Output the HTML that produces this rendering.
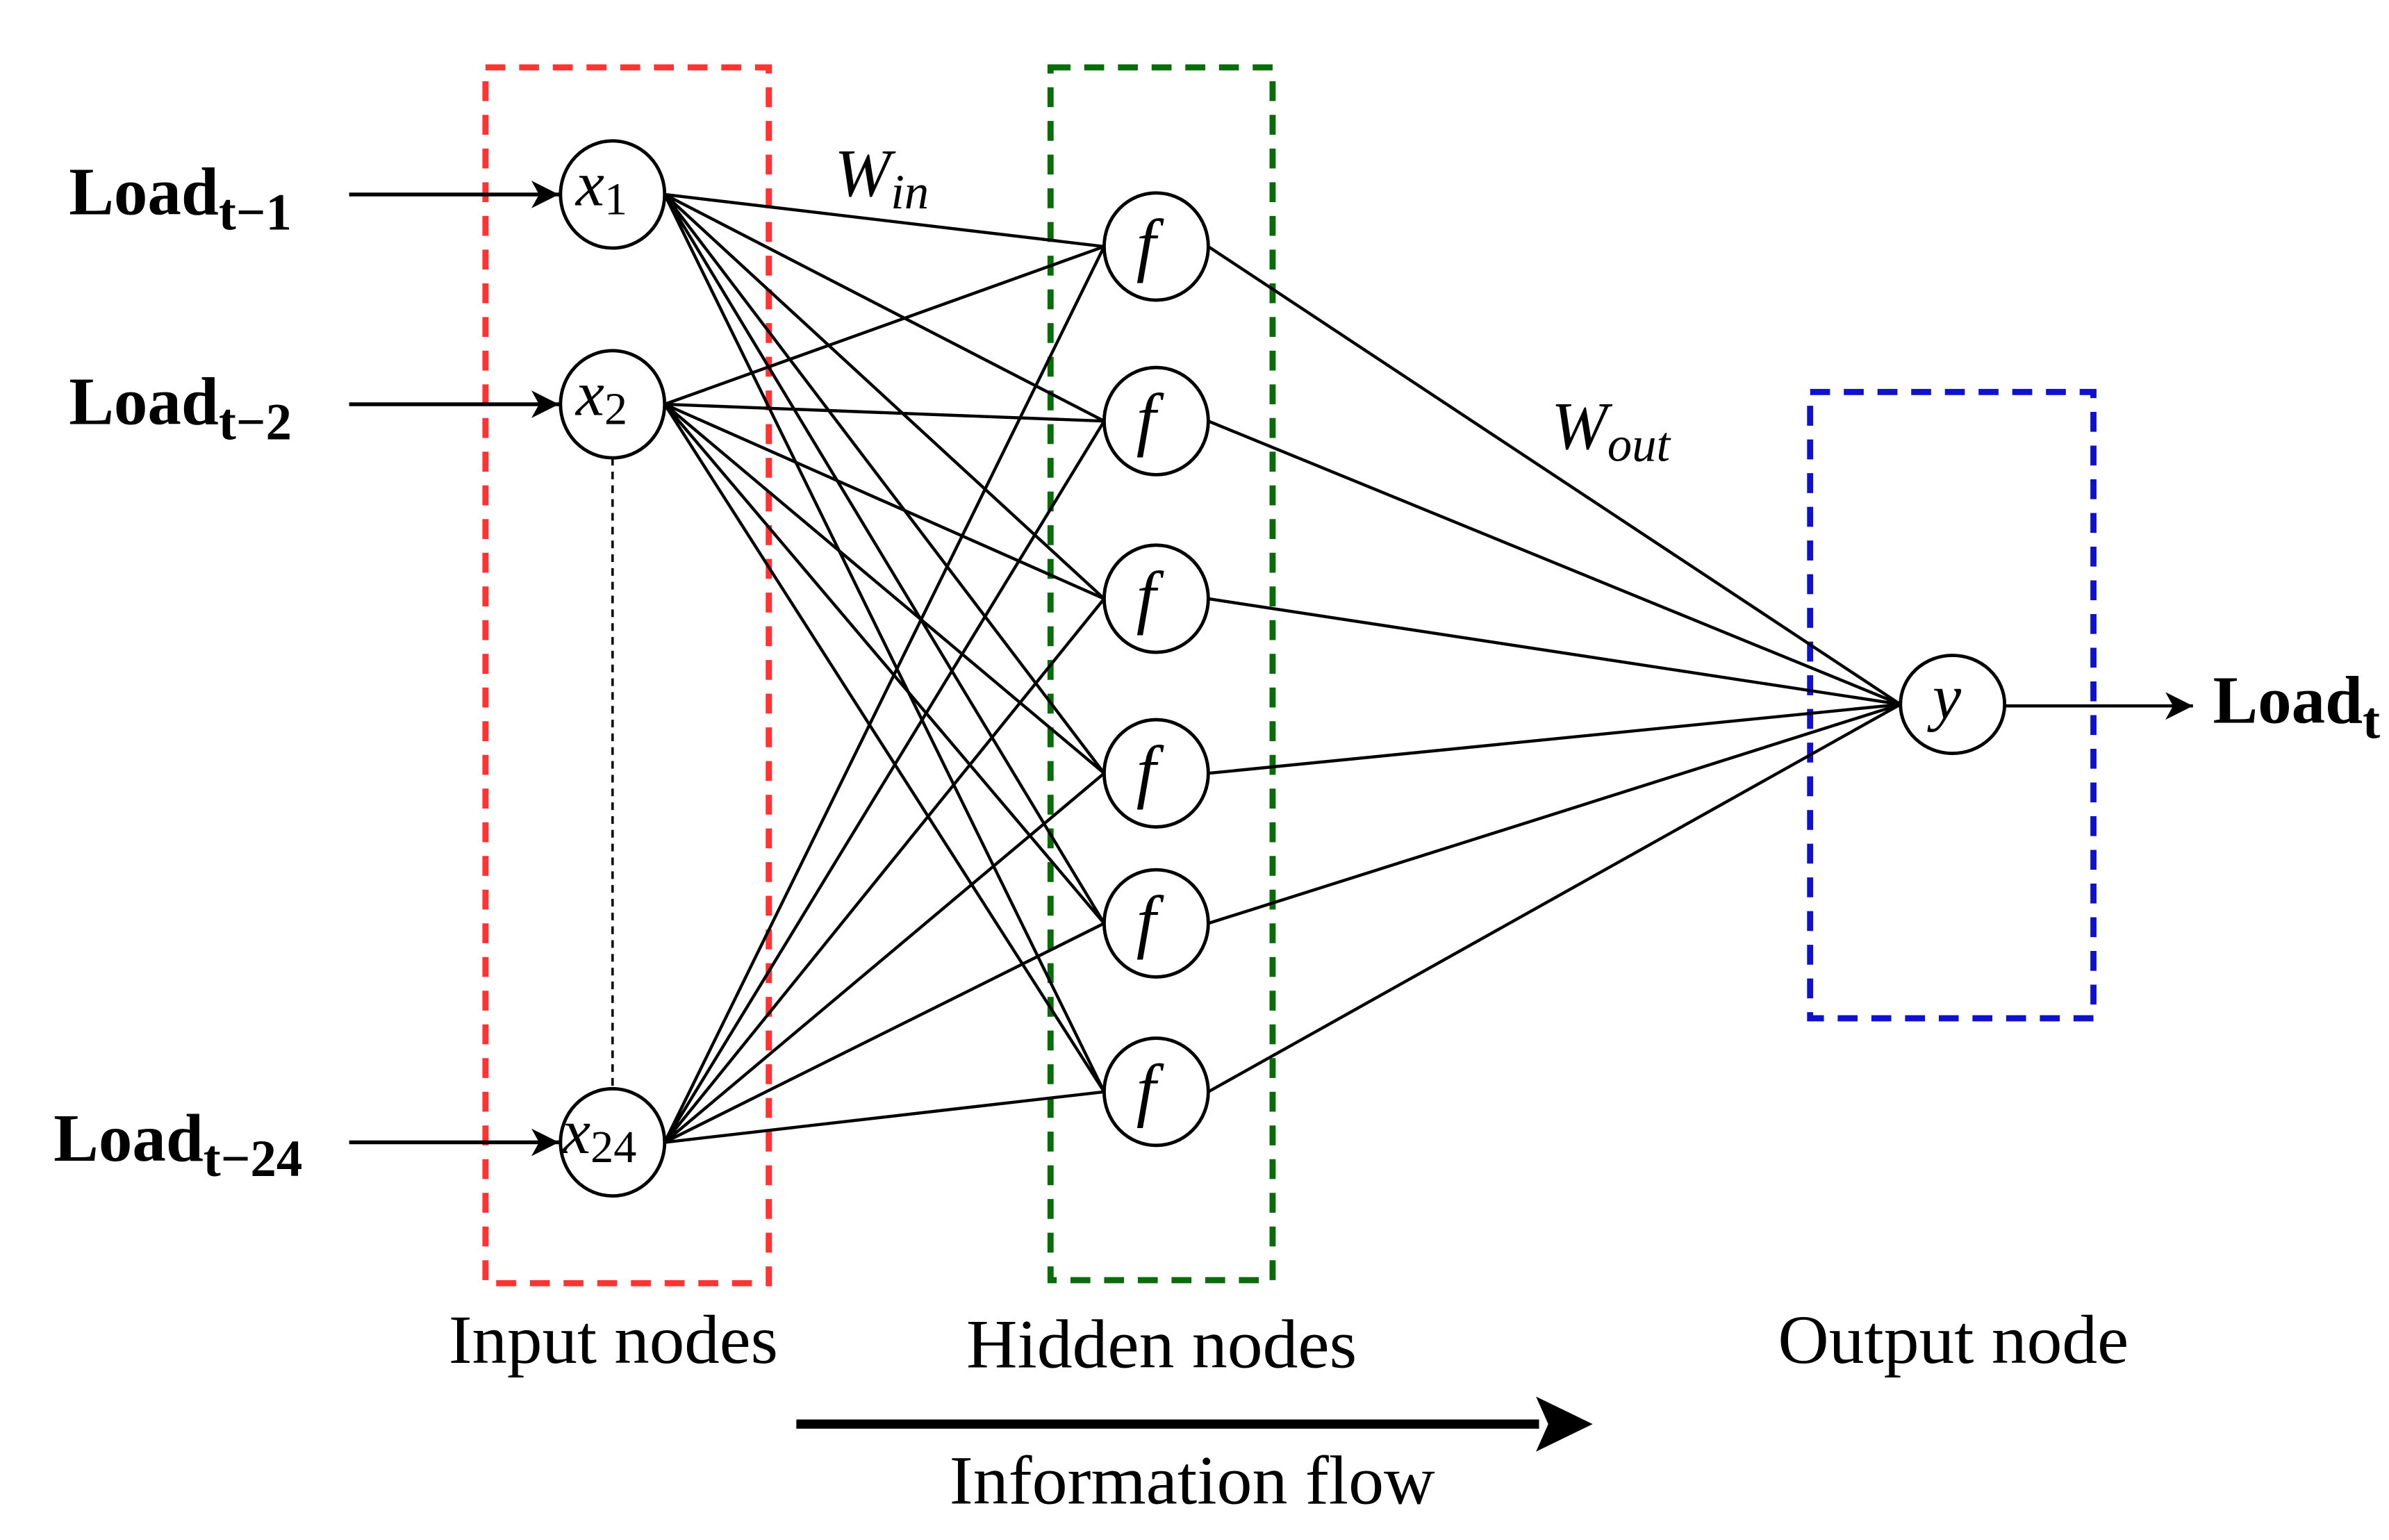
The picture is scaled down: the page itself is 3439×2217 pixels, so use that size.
<!DOCTYPE html>
<html><head><meta charset="utf-8"><style>
html,body{margin:0;padding:0;background:#fff;}
svg{display:block;}
text{font-family:"Liberation Serif",serif;fill:#000;}
</style></head><body>
<svg width="3439" height="2217" viewBox="0 0 1560 1005.7" preserveAspectRatio="none" xmlns="http://www.w3.org/2000/svg">
<defs>
<marker id="ah" markerWidth="20" markerHeight="20" refX="18" refY="9" orient="auto" markerUnits="userSpaceOnUse">
<path d="M0,0 L18,9 L0,18 L5,9 Z" fill="#000"/>
</marker>
</defs>
<rect width="1560" height="1006" fill="#fff"/>
<rect x="317" y="44" width="185" height="794" fill="none" stroke="#ff3333" stroke-width="4" stroke-dasharray="13,9"/>
<rect x="686" y="44" width="145" height="792" fill="none" stroke="#0a6b0a" stroke-width="4" stroke-dasharray="13,9"/>
<rect x="1182" y="256" width="185" height="409" fill="none" stroke="#1010d0" stroke-width="4" stroke-dasharray="13,9"/>
<line x1="400" y1="299" x2="400" y2="712" stroke="#000" stroke-width="1.6" stroke-dasharray="5,4"/>
<g stroke="#000" stroke-width="2" fill="none">
<path d="M434,127 L721,161 M434,127 L721,275 M434,127 L721,391 M434,127 L721,505 M434,127 L721,603 M434,127 L721,713"/>
<path d="M434,264 L721,161 M434,264 L721,275 M434,264 L721,391 M434,264 L721,505 M434,264 L721,603 M434,264 L721,713"/>
<path d="M434,746 L721,161 M434,746 L721,275 M434,746 L721,391 M434,746 L721,505 M434,746 L721,603 M434,746 L721,713"/>
<path d="M789,161 L1241,460 M789,275 L1241,460 M789,391 L1241,460 M789,505 L1241,460 M789,603 L1241,460 M789,713 L1241,460"/>
</g>
<g stroke="#000" stroke-width="2.5">
<line x1="228" y1="127" x2="365" y2="127" marker-end="url(#ah)"/>
<line x1="228" y1="264" x2="365" y2="264" marker-end="url(#ah)"/>
<line x1="228" y1="746" x2="365" y2="746" marker-end="url(#ah)"/>
<line x1="1309" y1="461" x2="1432" y2="461" stroke-width="2" marker-end="url(#ah)"/>
</g>
<g fill="#fff" stroke="#000" stroke-width="2.2">
<ellipse cx="400" cy="127" rx="34" ry="35"/>
<ellipse cx="400" cy="264" rx="34" ry="35"/>
<ellipse cx="400" cy="746" rx="34" ry="35"/>
<ellipse cx="755" cy="161" rx="34" ry="35"/>
<ellipse cx="755" cy="275" rx="34" ry="35"/>
<ellipse cx="755" cy="391" rx="34" ry="35"/>
<ellipse cx="755" cy="505" rx="34" ry="35"/>
<ellipse cx="755" cy="603" rx="34" ry="35"/>
<ellipse cx="755" cy="713" rx="34" ry="35"/>
<ellipse cx="1275" cy="460" rx="34" ry="32"/>
</g>
<g font-style="italic" font-size="42">
<text x="376" y="134">x<tspan font-style="normal" font-size="30" dy="6">1</tspan></text>
<text x="376" y="271">x<tspan font-style="normal" font-size="30" dy="6">2</tspan></text>
<text x="367" y="753">x<tspan font-style="normal" font-size="30" dy="6">24</tspan></text>
<text x="742" y="175" font-size="46">f</text>
<text x="742" y="289" font-size="46">f</text>
<text x="742" y="405" font-size="46">f</text>
<text x="742" y="519" font-size="46">f</text>
<text x="742" y="617" font-size="46">f</text>
<text x="742" y="727" font-size="46">f</text>
<text x="1262" y="469">y</text>
</g>
<g font-weight="bold" font-size="44">
<text x="45" y="140">Load<tspan font-size="34" dy="10">t−1</tspan></text>
<text x="45" y="277">Load<tspan font-size="34" dy="10">t−2</tspan></text>
<text x="35" y="758">Load<tspan font-size="34" dy="10">t−24</tspan></text>
<text x="1445" y="472">Load<tspan font-size="34" dy="10">t</tspan></text>
</g>
<g font-style="italic" font-size="44">
<text x="545" y="128">W<tspan font-size="32" dy="8">in</tspan></text>
<text x="1013" y="293">W<tspan font-size="32" dy="8">out</tspan></text>
</g>
<text x="293" y="890" font-size="45" textLength="215" lengthAdjust="spacingAndGlyphs">Input nodes</text>
<text x="631" y="893" font-size="45" textLength="255" lengthAdjust="spacingAndGlyphs">Hidden nodes</text>
<text x="1161" y="890" font-size="45" textLength="229" lengthAdjust="spacingAndGlyphs">Output node</text>
<text x="620" y="982" font-size="45" textLength="317" lengthAdjust="spacingAndGlyphs">Information flow</text>
<line x1="520" y1="930" x2="1005" y2="930" stroke="#000" stroke-width="6"/>
<path d="M1040,930 L1003,912 L1011,930 L1003,948 Z" fill="#000"/>
</svg>
</body></html>
